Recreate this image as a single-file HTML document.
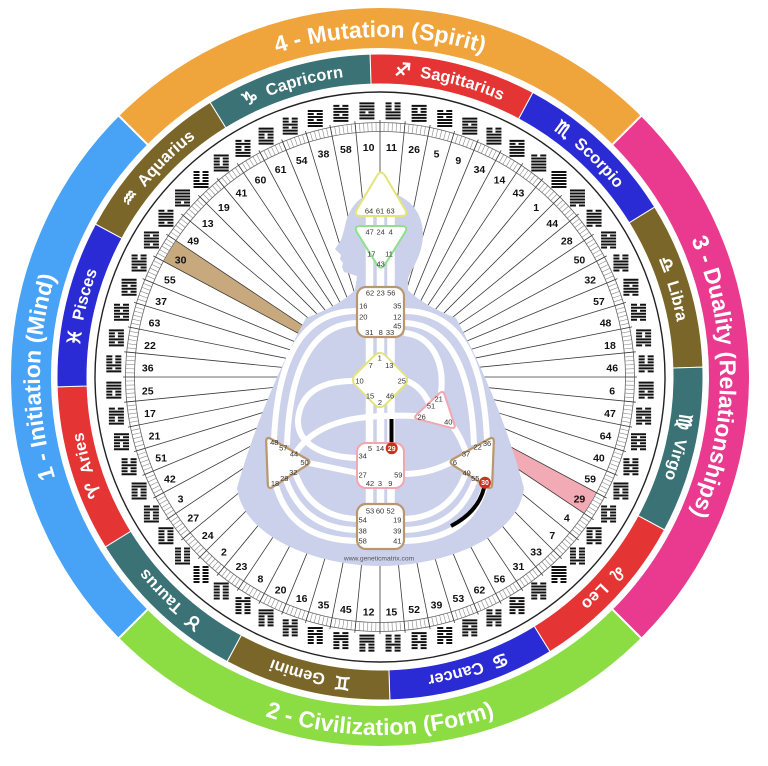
<!DOCTYPE html>
<html><head><meta charset="utf-8"><style>html,body{margin:0;padding:0;background:#fff;}svg{display:block;}</style></head>
<body>
<svg width="768" height="766" viewBox="0 0 768 766" xmlns="http://www.w3.org/2000/svg" xmlns:xlink="http://www.w3.org/1999/xlink" font-family="'Liberation Sans','DejaVu Sans',sans-serif">
<defs>
<g id="hx"><line x1="0" y1="-8.5" x2="0" y2="8.5" stroke="#111" stroke-width="15" stroke-dasharray="2 1"/></g>
<path id="pTop" d="M139.58,136.58 A340 340 0 0 1 620.42,136.58"/>
<path id="pRight" d="M620.42,136.58 A340 340 0 0 1 620.42,617.42"/>
<path id="pLeft" d="M139.58,617.42 A340 340 0 0 1 139.58,136.58"/>
<path id="pBot" d="M126.86,630.14 A358 358 0 0 0 633.14,630.14"/>
<path id="pZ" d="M380,75 A302 302 0 0 1 380,679 A302 302 0 0 1 380,75"/>
</defs>
<rect width="768" height="766" fill="#fff"/>

<!-- quarters -->
<g stroke="#fff" stroke-width="2">
<path fill="#f0a43c" d="M118.37,115.37 A370 370 0 0 1 641.63,115.37 L611.93,145.07 A328 328 0 0 0 148.07,145.07 Z"/>
<path fill="#e93a8f" d="M641.63,115.37 A370 370 0 0 1 641.63,638.63 L611.93,608.93 A328 328 0 0 0 611.93,145.07 Z"/>
<path fill="#8cdc44" d="M641.63,638.63 A370 370 0 0 1 118.37,638.63 L148.07,608.93 A328 328 0 0 0 611.93,608.93 Z"/>
<path fill="#48a2f6" d="M118.37,638.63 A370 370 0 0 1 118.37,115.37 L148.07,145.07 A328 328 0 0 0 148.07,608.93 Z"/>
</g>
<g font-weight="bold" font-size="23" fill="#fff">
<text><textPath href="#pTop" xlink:href="#pTop" startOffset="50%" text-anchor="middle">4 - Mutation (Spirit)</textPath></text>
<text><textPath href="#pRight" xlink:href="#pRight" startOffset="50%" text-anchor="middle">3 - Duality (Relationships)</textPath></text>
<text><textPath href="#pLeft" xlink:href="#pLeft" startOffset="50%" text-anchor="middle">1 - Initiation (Mind)</textPath></text>
<text><textPath href="#pBot" xlink:href="#pBot" startOffset="50%" text-anchor="middle">2 - Civilization (Form)</textPath></text>
</g>

<!-- zodiac -->
<g stroke="#fff" stroke-width="1">
<path fill="#3b7275" d="M210.03,102.34 A323 323 0 0 1 370.14,54.15 L371.05,84.14 A293 293 0 0 0 225.82,127.85 Z"/>
<path fill="#e53434" d="M370.14,54.15 A323 323 0 0 1 532.88,92.47 L518.68,118.90 A293 293 0 0 0 371.05,84.14 Z"/>
<path fill="#2b2bd6" d="M532.88,92.47 A323 323 0 0 1 654.66,207.03 L629.15,222.82 A293 293 0 0 0 518.68,118.90 Z"/>
<path fill="#7b6629" d="M654.66,207.03 A323 323 0 0 1 702.85,367.14 L672.86,368.05 A293 293 0 0 0 629.15,222.82 Z"/>
<path fill="#3b7275" d="M702.85,367.14 A323 323 0 0 1 664.53,529.88 L638.10,515.68 A293 293 0 0 0 672.86,368.05 Z"/>
<path fill="#e53434" d="M664.53,529.88 A323 323 0 0 1 549.97,651.66 L534.18,626.15 A293 293 0 0 0 638.10,515.68 Z"/>
<path fill="#2b2bd6" d="M549.97,651.66 A323 323 0 0 1 389.86,699.85 L388.95,669.86 A293 293 0 0 0 534.18,626.15 Z"/>
<path fill="#7b6629" d="M389.86,699.85 A323 323 0 0 1 227.12,661.53 L241.32,635.10 A293 293 0 0 0 388.95,669.86 Z"/>
<path fill="#3b7275" d="M227.12,661.53 A323 323 0 0 1 105.34,546.97 L130.85,531.18 A293 293 0 0 0 241.32,635.10 Z"/>
<path fill="#e53434" d="M105.34,546.97 A323 323 0 0 1 57.15,386.86 L87.14,385.95 A293 293 0 0 0 130.85,531.18 Z"/>
<path fill="#2b2bd6" d="M57.15,386.86 A323 323 0 0 1 95.47,224.12 L121.90,238.32 A293 293 0 0 0 87.14,385.95 Z"/>
<path fill="#7b6629" d="M95.47,224.12 A323 323 0 0 1 210.03,102.34 L225.82,127.85 A293 293 0 0 0 121.90,238.32 Z"/>
</g>
<g font-weight="bold" font-size="16.5" fill="#fff">
<text><textPath href="#pZ" xlink:href="#pZ" startOffset="70.347%" text-anchor="middle"><tspan font-size="18" stroke="#fff" stroke-width="0.9">♈&#xFE0E;</tspan>&#160; Aries</textPath></text>
<text><textPath href="#pZ" xlink:href="#pZ" startOffset="62.014%" text-anchor="middle"><tspan font-size="18" stroke="#fff" stroke-width="0.9">♉&#xFE0E;</tspan>&#160; Taurus</textPath></text>
<text><textPath href="#pZ" xlink:href="#pZ" startOffset="53.681%" text-anchor="middle"><tspan font-size="18" stroke="#fff" stroke-width="0.9">♊&#xFE0E;</tspan>&#160; Gemini</textPath></text>
<text><textPath href="#pZ" xlink:href="#pZ" startOffset="45.347%" text-anchor="middle"><tspan font-size="18" stroke="#fff" stroke-width="0.9">♋&#xFE0E;</tspan>&#160; Cancer</textPath></text>
<text><textPath href="#pZ" xlink:href="#pZ" startOffset="37.014%" text-anchor="middle"><tspan font-size="18" stroke="#fff" stroke-width="0.9">♌&#xFE0E;</tspan>&#160; Leo</textPath></text>
<text><textPath href="#pZ" xlink:href="#pZ" startOffset="28.681%" text-anchor="middle"><tspan font-size="18" stroke="#fff" stroke-width="0.9">♍&#xFE0E;</tspan>&#160; Virgo</textPath></text>
<text><textPath href="#pZ" xlink:href="#pZ" startOffset="20.347%" text-anchor="middle"><tspan font-size="18" stroke="#fff" stroke-width="0.9">♎&#xFE0E;</tspan>&#160; Libra</textPath></text>
<text><textPath href="#pZ" xlink:href="#pZ" startOffset="12.014%" text-anchor="middle"><tspan font-size="18" stroke="#fff" stroke-width="0.9">♏&#xFE0E;</tspan>&#160; Scorpio</textPath></text>
<text><textPath href="#pZ" xlink:href="#pZ" startOffset="3.681%" text-anchor="middle"><tspan font-size="18" stroke="#fff" stroke-width="0.9">♐&#xFE0E;</tspan>&#160; Sagittarius</textPath></text>
<text><textPath href="#pZ" xlink:href="#pZ" startOffset="95.347%" text-anchor="middle"><tspan font-size="18" stroke="#fff" stroke-width="0.9">♑&#xFE0E;</tspan>&#160; Capricorn</textPath></text>
<text><textPath href="#pZ" xlink:href="#pZ" startOffset="87.014%" text-anchor="middle"><tspan font-size="18" stroke="#fff" stroke-width="0.9">♒&#xFE0E;</tspan>&#160; Aquarius</textPath></text>
<text><textPath href="#pZ" xlink:href="#pZ" startOffset="78.681%" text-anchor="middle"><tspan font-size="18" stroke="#fff" stroke-width="0.9">♓&#xFE0E;</tspan>&#160; Pisces</textPath></text>
</g>

<circle cx="380" cy="377" r="285" fill="none" stroke="#222" stroke-width="1.4"/>

<!-- highlighted gate wedges -->
<path fill="#c8a97e" d="M380,377 L163.93,261.51 A245 245 0 0 1 176.29,240.89 Z"/>
<path fill="#f2aab4" d="M380,377 L596.07,492.49 A245 245 0 0 1 583.71,513.11 Z"/>

<!-- tick ring -->
<circle cx="380" cy="377" r="250" fill="none" stroke="#8a8a8a" stroke-width="9" stroke-dasharray="0.6 3.4906" stroke-dashoffset="0.3" transform="rotate(-90 380 377)"/>
<circle cx="380" cy="377" r="245.5" fill="none" stroke="#666" stroke-width="0.8"/>
<circle cx="380" cy="377" r="254.5" fill="none" stroke="#666" stroke-width="0.8"/>

<!-- radial lines -->
<g stroke="#3a3a3a" stroke-width="0.8">
<line x1="380" y1="120" x2="380" y2="634"/>
<line x1="380" y1="120" x2="380" y2="634" transform="rotate(5.625 380 377)"/>
<line x1="380" y1="120" x2="380" y2="634" transform="rotate(11.25 380 377)"/>
<line x1="380" y1="120" x2="380" y2="634" transform="rotate(16.875 380 377)"/>
<line x1="380" y1="120" x2="380" y2="634" transform="rotate(22.5 380 377)"/>
<line x1="380" y1="120" x2="380" y2="634" transform="rotate(28.125 380 377)"/>
<line x1="380" y1="120" x2="380" y2="634" transform="rotate(33.75 380 377)"/>
<line x1="380" y1="120" x2="380" y2="634" transform="rotate(39.375 380 377)"/>
<line x1="380" y1="120" x2="380" y2="634" transform="rotate(45 380 377)"/>
<line x1="380" y1="120" x2="380" y2="634" transform="rotate(50.625 380 377)"/>
<line x1="380" y1="120" x2="380" y2="634" transform="rotate(56.25 380 377)"/>
<line x1="380" y1="120" x2="380" y2="634" transform="rotate(61.875 380 377)"/>
<line x1="380" y1="120" x2="380" y2="634" transform="rotate(67.5 380 377)"/>
<line x1="380" y1="120" x2="380" y2="634" transform="rotate(73.125 380 377)"/>
<line x1="380" y1="120" x2="380" y2="634" transform="rotate(78.75 380 377)"/>
<line x1="380" y1="120" x2="380" y2="634" transform="rotate(84.375 380 377)"/>
<line x1="380" y1="120" x2="380" y2="634" transform="rotate(90 380 377)"/>
<line x1="380" y1="120" x2="380" y2="634" transform="rotate(95.625 380 377)"/>
<line x1="380" y1="120" x2="380" y2="634" transform="rotate(101.25 380 377)"/>
<line x1="380" y1="120" x2="380" y2="634" transform="rotate(106.875 380 377)"/>
<line x1="380" y1="120" x2="380" y2="634" transform="rotate(112.5 380 377)"/>
<line x1="380" y1="120" x2="380" y2="634" transform="rotate(118.125 380 377)"/>
<line x1="380" y1="120" x2="380" y2="634" transform="rotate(123.75 380 377)"/>
<line x1="380" y1="120" x2="380" y2="634" transform="rotate(129.375 380 377)"/>
<line x1="380" y1="120" x2="380" y2="634" transform="rotate(135 380 377)"/>
<line x1="380" y1="120" x2="380" y2="634" transform="rotate(140.625 380 377)"/>
<line x1="380" y1="120" x2="380" y2="634" transform="rotate(146.25 380 377)"/>
<line x1="380" y1="120" x2="380" y2="634" transform="rotate(151.875 380 377)"/>
<line x1="380" y1="120" x2="380" y2="634" transform="rotate(157.5 380 377)"/>
<line x1="380" y1="120" x2="380" y2="634" transform="rotate(163.125 380 377)"/>
<line x1="380" y1="120" x2="380" y2="634" transform="rotate(168.75 380 377)"/>
<line x1="380" y1="120" x2="380" y2="634" transform="rotate(174.375 380 377)"/>
</g>

<!-- hexagrams + gate numbers -->
<g font-weight="bold" font-size="10.5" fill="#111" text-anchor="middle">
<g transform="rotate(2.8125 380 377)"><use href="#hx" xlink:href="#hx" transform="translate(380 110.5) rotate(-2.8125)"/><text transform="translate(380 144.5) rotate(-2.8125)" y="6.1">11</text></g>
<g transform="rotate(8.4375 380 377)"><use href="#hx" xlink:href="#hx" transform="translate(380 110.5) rotate(-8.4375)"/><text transform="translate(380 144.5) rotate(-8.4375)" y="6.1">26</text></g>
<g transform="rotate(14.0625 380 377)"><use href="#hx" xlink:href="#hx" transform="translate(380 110.5) rotate(-14.0625)"/><text transform="translate(380 144.5) rotate(-14.0625)" y="6.1">5</text></g>
<g transform="rotate(19.6875 380 377)"><use href="#hx" xlink:href="#hx" transform="translate(380 110.5) rotate(-19.6875)"/><text transform="translate(380 144.5) rotate(-19.6875)" y="6.1">9</text></g>
<g transform="rotate(25.3125 380 377)"><use href="#hx" xlink:href="#hx" transform="translate(380 110.5) rotate(-25.3125)"/><text transform="translate(380 144.5) rotate(-25.3125)" y="6.1">34</text></g>
<g transform="rotate(30.9375 380 377)"><use href="#hx" xlink:href="#hx" transform="translate(380 110.5) rotate(-30.9375)"/><text transform="translate(380 144.5) rotate(-30.9375)" y="6.1">14</text></g>
<g transform="rotate(36.5625 380 377)"><use href="#hx" xlink:href="#hx" transform="translate(380 110.5) rotate(-36.5625)"/><text transform="translate(380 144.5) rotate(-36.5625)" y="6.1">43</text></g>
<g transform="rotate(42.1875 380 377)"><use href="#hx" xlink:href="#hx" transform="translate(380 110.5) rotate(-42.1875)"/><text transform="translate(380 144.5) rotate(-42.1875)" y="6.1">1</text></g>
<g transform="rotate(47.8125 380 377)"><use href="#hx" xlink:href="#hx" transform="translate(380 110.5) rotate(-47.8125)"/><text transform="translate(380 144.5) rotate(-47.8125)" y="6.1">44</text></g>
<g transform="rotate(53.4375 380 377)"><use href="#hx" xlink:href="#hx" transform="translate(380 110.5) rotate(-53.4375)"/><text transform="translate(380 144.5) rotate(-53.4375)" y="6.1">28</text></g>
<g transform="rotate(59.0625 380 377)"><use href="#hx" xlink:href="#hx" transform="translate(380 110.5) rotate(-59.0625)"/><text transform="translate(380 144.5) rotate(-59.0625)" y="6.1">50</text></g>
<g transform="rotate(64.6875 380 377)"><use href="#hx" xlink:href="#hx" transform="translate(380 110.5) rotate(-64.6875)"/><text transform="translate(380 144.5) rotate(-64.6875)" y="6.1">32</text></g>
<g transform="rotate(70.3125 380 377)"><use href="#hx" xlink:href="#hx" transform="translate(380 110.5) rotate(-70.3125)"/><text transform="translate(380 144.5) rotate(-70.3125)" y="6.1">57</text></g>
<g transform="rotate(75.9375 380 377)"><use href="#hx" xlink:href="#hx" transform="translate(380 110.5) rotate(-75.9375)"/><text transform="translate(380 144.5) rotate(-75.9375)" y="6.1">48</text></g>
<g transform="rotate(81.5625 380 377)"><use href="#hx" xlink:href="#hx" transform="translate(380 110.5) rotate(-81.5625)"/><text transform="translate(380 144.5) rotate(-81.5625)" y="6.1">18</text></g>
<g transform="rotate(87.1875 380 377)"><use href="#hx" xlink:href="#hx" transform="translate(380 110.5) rotate(-87.1875)"/><text transform="translate(380 144.5) rotate(-87.1875)" y="6.1">46</text></g>
<g transform="rotate(92.8125 380 377)"><use href="#hx" xlink:href="#hx" transform="translate(380 110.5) rotate(-92.8125)"/><text transform="translate(380 144.5) rotate(-92.8125)" y="6.1">6</text></g>
<g transform="rotate(98.4375 380 377)"><use href="#hx" xlink:href="#hx" transform="translate(380 110.5) rotate(-98.4375)"/><text transform="translate(380 144.5) rotate(-98.4375)" y="6.1">47</text></g>
<g transform="rotate(104.0625 380 377)"><use href="#hx" xlink:href="#hx" transform="translate(380 110.5) rotate(-104.0625)"/><text transform="translate(380 144.5) rotate(-104.0625)" y="6.1">64</text></g>
<g transform="rotate(109.6875 380 377)"><use href="#hx" xlink:href="#hx" transform="translate(380 110.5) rotate(-109.6875)"/><text transform="translate(380 144.5) rotate(-109.6875)" y="6.1">40</text></g>
<g transform="rotate(115.3125 380 377)"><use href="#hx" xlink:href="#hx" transform="translate(380 110.5) rotate(-115.3125)"/><text transform="translate(380 144.5) rotate(-115.3125)" y="6.1">59</text></g>
<g transform="rotate(120.9375 380 377)"><use href="#hx" xlink:href="#hx" transform="translate(380 110.5) rotate(-120.9375)"/><text transform="translate(380 144.5) rotate(-120.9375)" y="6.1">29</text></g>
<g transform="rotate(126.5625 380 377)"><use href="#hx" xlink:href="#hx" transform="translate(380 110.5) rotate(-126.5625)"/><text transform="translate(380 144.5) rotate(-126.5625)" y="6.1">4</text></g>
<g transform="rotate(132.1875 380 377)"><use href="#hx" xlink:href="#hx" transform="translate(380 110.5) rotate(-132.1875)"/><text transform="translate(380 144.5) rotate(-132.1875)" y="6.1">7</text></g>
<g transform="rotate(137.8125 380 377)"><use href="#hx" xlink:href="#hx" transform="translate(380 110.5) rotate(-137.8125)"/><text transform="translate(380 144.5) rotate(-137.8125)" y="6.1">33</text></g>
<g transform="rotate(143.4375 380 377)"><use href="#hx" xlink:href="#hx" transform="translate(380 110.5) rotate(-143.4375)"/><text transform="translate(380 144.5) rotate(-143.4375)" y="6.1">31</text></g>
<g transform="rotate(149.0625 380 377)"><use href="#hx" xlink:href="#hx" transform="translate(380 110.5) rotate(-149.0625)"/><text transform="translate(380 144.5) rotate(-149.0625)" y="6.1">56</text></g>
<g transform="rotate(154.6875 380 377)"><use href="#hx" xlink:href="#hx" transform="translate(380 110.5) rotate(-154.6875)"/><text transform="translate(380 144.5) rotate(-154.6875)" y="6.1">62</text></g>
<g transform="rotate(160.3125 380 377)"><use href="#hx" xlink:href="#hx" transform="translate(380 110.5) rotate(-160.3125)"/><text transform="translate(380 144.5) rotate(-160.3125)" y="6.1">53</text></g>
<g transform="rotate(165.9375 380 377)"><use href="#hx" xlink:href="#hx" transform="translate(380 110.5) rotate(-165.9375)"/><text transform="translate(380 144.5) rotate(-165.9375)" y="6.1">39</text></g>
<g transform="rotate(171.5625 380 377)"><use href="#hx" xlink:href="#hx" transform="translate(380 110.5) rotate(-171.5625)"/><text transform="translate(380 144.5) rotate(-171.5625)" y="6.1">52</text></g>
<g transform="rotate(177.1875 380 377)"><use href="#hx" xlink:href="#hx" transform="translate(380 110.5) rotate(-177.1875)"/><text transform="translate(380 144.5) rotate(-177.1875)" y="6.1">15</text></g>
<g transform="rotate(182.8125 380 377)"><use href="#hx" xlink:href="#hx" transform="translate(380 110.5) rotate(-182.8125)"/><text transform="translate(380 144.5) rotate(-182.8125)" y="6.1">12</text></g>
<g transform="rotate(188.4375 380 377)"><use href="#hx" xlink:href="#hx" transform="translate(380 110.5) rotate(-188.4375)"/><text transform="translate(380 144.5) rotate(-188.4375)" y="6.1">45</text></g>
<g transform="rotate(194.0625 380 377)"><use href="#hx" xlink:href="#hx" transform="translate(380 110.5) rotate(-194.0625)"/><text transform="translate(380 144.5) rotate(-194.0625)" y="6.1">35</text></g>
<g transform="rotate(199.6875 380 377)"><use href="#hx" xlink:href="#hx" transform="translate(380 110.5) rotate(-199.6875)"/><text transform="translate(380 144.5) rotate(-199.6875)" y="6.1">16</text></g>
<g transform="rotate(205.3125 380 377)"><use href="#hx" xlink:href="#hx" transform="translate(380 110.5) rotate(-205.3125)"/><text transform="translate(380 144.5) rotate(-205.3125)" y="6.1">20</text></g>
<g transform="rotate(210.9375 380 377)"><use href="#hx" xlink:href="#hx" transform="translate(380 110.5) rotate(-210.9375)"/><text transform="translate(380 144.5) rotate(-210.9375)" y="6.1">8</text></g>
<g transform="rotate(216.5625 380 377)"><use href="#hx" xlink:href="#hx" transform="translate(380 110.5) rotate(-216.5625)"/><text transform="translate(380 144.5) rotate(-216.5625)" y="6.1">23</text></g>
<g transform="rotate(222.1875 380 377)"><use href="#hx" xlink:href="#hx" transform="translate(380 110.5) rotate(-222.1875)"/><text transform="translate(380 144.5) rotate(-222.1875)" y="6.1">2</text></g>
<g transform="rotate(227.8125 380 377)"><use href="#hx" xlink:href="#hx" transform="translate(380 110.5) rotate(-227.8125)"/><text transform="translate(380 144.5) rotate(-227.8125)" y="6.1">24</text></g>
<g transform="rotate(233.4375 380 377)"><use href="#hx" xlink:href="#hx" transform="translate(380 110.5) rotate(-233.4375)"/><text transform="translate(380 144.5) rotate(-233.4375)" y="6.1">27</text></g>
<g transform="rotate(239.0625 380 377)"><use href="#hx" xlink:href="#hx" transform="translate(380 110.5) rotate(-239.0625)"/><text transform="translate(380 144.5) rotate(-239.0625)" y="6.1">3</text></g>
<g transform="rotate(244.6875 380 377)"><use href="#hx" xlink:href="#hx" transform="translate(380 110.5) rotate(-244.6875)"/><text transform="translate(380 144.5) rotate(-244.6875)" y="6.1">42</text></g>
<g transform="rotate(250.3125 380 377)"><use href="#hx" xlink:href="#hx" transform="translate(380 110.5) rotate(-250.3125)"/><text transform="translate(380 144.5) rotate(-250.3125)" y="6.1">51</text></g>
<g transform="rotate(255.9375 380 377)"><use href="#hx" xlink:href="#hx" transform="translate(380 110.5) rotate(-255.9375)"/><text transform="translate(380 144.5) rotate(-255.9375)" y="6.1">21</text></g>
<g transform="rotate(261.5625 380 377)"><use href="#hx" xlink:href="#hx" transform="translate(380 110.5) rotate(-261.5625)"/><text transform="translate(380 144.5) rotate(-261.5625)" y="6.1">17</text></g>
<g transform="rotate(267.1875 380 377)"><use href="#hx" xlink:href="#hx" transform="translate(380 110.5) rotate(-267.1875)"/><text transform="translate(380 144.5) rotate(-267.1875)" y="6.1">25</text></g>
<g transform="rotate(272.8125 380 377)"><use href="#hx" xlink:href="#hx" transform="translate(380 110.5) rotate(-272.8125)"/><text transform="translate(380 144.5) rotate(-272.8125)" y="6.1">36</text></g>
<g transform="rotate(278.4375 380 377)"><use href="#hx" xlink:href="#hx" transform="translate(380 110.5) rotate(-278.4375)"/><text transform="translate(380 144.5) rotate(-278.4375)" y="6.1">22</text></g>
<g transform="rotate(284.0625 380 377)"><use href="#hx" xlink:href="#hx" transform="translate(380 110.5) rotate(-284.0625)"/><text transform="translate(380 144.5) rotate(-284.0625)" y="6.1">63</text></g>
<g transform="rotate(289.6875 380 377)"><use href="#hx" xlink:href="#hx" transform="translate(380 110.5) rotate(-289.6875)"/><text transform="translate(380 144.5) rotate(-289.6875)" y="6.1">37</text></g>
<g transform="rotate(295.3125 380 377)"><use href="#hx" xlink:href="#hx" transform="translate(380 110.5) rotate(-295.3125)"/><text transform="translate(380 144.5) rotate(-295.3125)" y="6.1">55</text></g>
<g transform="rotate(300.9375 380 377)"><use href="#hx" xlink:href="#hx" transform="translate(380 110.5) rotate(-300.9375)"/><text transform="translate(380 144.5) rotate(-300.9375)" y="6.1">30</text></g>
<g transform="rotate(306.5625 380 377)"><use href="#hx" xlink:href="#hx" transform="translate(380 110.5) rotate(-306.5625)"/><text transform="translate(380 144.5) rotate(-306.5625)" y="6.1">49</text></g>
<g transform="rotate(312.1875 380 377)"><use href="#hx" xlink:href="#hx" transform="translate(380 110.5) rotate(-312.1875)"/><text transform="translate(380 144.5) rotate(-312.1875)" y="6.1">13</text></g>
<g transform="rotate(317.8125 380 377)"><use href="#hx" xlink:href="#hx" transform="translate(380 110.5) rotate(-317.8125)"/><text transform="translate(380 144.5) rotate(-317.8125)" y="6.1">19</text></g>
<g transform="rotate(323.4375 380 377)"><use href="#hx" xlink:href="#hx" transform="translate(380 110.5) rotate(-323.4375)"/><text transform="translate(380 144.5) rotate(-323.4375)" y="6.1">41</text></g>
<g transform="rotate(329.0625 380 377)"><use href="#hx" xlink:href="#hx" transform="translate(380 110.5) rotate(-329.0625)"/><text transform="translate(380 144.5) rotate(-329.0625)" y="6.1">60</text></g>
<g transform="rotate(334.6875 380 377)"><use href="#hx" xlink:href="#hx" transform="translate(380 110.5) rotate(-334.6875)"/><text transform="translate(380 144.5) rotate(-334.6875)" y="6.1">61</text></g>
<g transform="rotate(340.3125 380 377)"><use href="#hx" xlink:href="#hx" transform="translate(380 110.5) rotate(-340.3125)"/><text transform="translate(380 144.5) rotate(-340.3125)" y="6.1">54</text></g>
<g transform="rotate(345.9375 380 377)"><use href="#hx" xlink:href="#hx" transform="translate(380 110.5) rotate(-345.9375)"/><text transform="translate(380 144.5) rotate(-345.9375)" y="6.1">38</text></g>
<g transform="rotate(351.5625 380 377)"><use href="#hx" xlink:href="#hx" transform="translate(380 110.5) rotate(-351.5625)"/><text transform="translate(380 144.5) rotate(-351.5625)" y="6.1">58</text></g>
<g transform="rotate(357.1875 380 377)"><use href="#hx" xlink:href="#hx" transform="translate(380 110.5) rotate(-357.1875)"/><text transform="translate(380 144.5) rotate(-357.1875)" y="6.1">10</text></g>
</g>
<g id="gaps"></g>

<!-- body silhouette -->
<path fill="#ccd1eb" d="M381,192 C405,192 423,210 423,234 C423,252 414,266 408,278 L408,290 C418,300 433,309 456,318 Q500,400 524,488 C518,540 440,566 381,566 C322,566 244,540 237,488 Q262,400 306,318 C330,309 345,300 355,290 L357,276 L344,272 L342,267 L343,263 L340,259 L341,255 L335,249 L341,240 C343,234 344,230 345,226 C349,206 362,192 381,192 Z"/>

<!-- channels -->
<g fill="none" stroke="#fff" stroke-width="6">
<path stroke-width="7.5" d="M369.5,214V292 M380.5,214V292 M391,214V292 M369.5,330V512 M380.5,330V512 M391,330V512"/>
<path d="M357,311 C310,311 278,345 274,440"/>
<path d="M357,323 C318,324 290,358 287,445"/>
<path d="M404,311 C451,311 483,345 487,440"/>
<path d="M404,323 C443,324 471,358 474,445"/>
<path d="M404,333 C430,335 445,360 441,393"/>
<path d="M405,380 C418,385 424,393 429,403"/>
<path d="M353,381 C318,381 300,395 298,420 C297,445 325,457 357,458"/>
<path d="M416,416 C360,414 318,420 296,452"/>
<path d="M309,463 L357,473"/>
<path d="M404,474 C425,474 440,468 452,462"/>
<path d="M450,423 C458,432 462,442 466,452"/>
<path d="M357,519 C325,518 305,500 296,475"/>
<path d="M357,530 C318,529 297,510 286,480"/>
<path d="M357,541 C310,540 286,520 276,486"/>
<path d="M404,519 C436,518 456,500 465,475"/>
<path d="M404,530 C443,529 464,510 475,480"/>
<path d="M404,541 C451,540 475,520 485,486"/>
</g>

<!-- activations -->
<path d="M391.5,419 V442" stroke="#000" stroke-width="4"/>
<path d="M484,488 Q478,512 451,526" fill="none" stroke="#000" stroke-width="4"/>

<!-- centers -->
<g fill="#fff" stroke-width="2">
<path stroke="#e4e47a" d="M376.9,175.9 Q381,169 385.1,175.9 L404.9,209.1 Q409,216 401,216 L361,216 Q353,216 357.1,209.1 Z"/>
<path stroke="#8fe08a" d="M361,226 L401,226 Q409,226 404.8,232.8 L385.2,264.2 Q381,271 376.8,264.2 L357.2,232.8 Q353,226 361,226 Z"/>
<rect x="357" y="287" width="47" height="50" rx="9" stroke="#b9976c" stroke-width="2.2"/>
<rect x="358.8" y="358.8" width="42.4" height="42.4" rx="7" stroke="#e2e37a" transform="rotate(45 380 380)"/>
<path stroke="#f2a7ae" d="M439.3,393.4 Q443,390 444.6,394.7 L454.4,424.3 Q456,429 451.2,427.8 L417.8,419.2 Q413,418 416.7,414.6 Z"/>
<rect x="357" y="443" width="47" height="45" rx="9" stroke="#f2a7ae"/>
<rect x="357" y="504" width="47" height="45" rx="9" stroke="#b9976c" stroke-width="2.2"/>
<path stroke="#b9976c" stroke-width="2.2" d="M271.2,439 L306.8,459 Q312,462 306.9,465.2 L273.1,486.8 Q268,490 267.8,484 L266.2,442 Q266,436 271.2,439 Z"/>
<path stroke="#b9976c" stroke-width="2.2" d="M488.8,439 L453.2,459 Q448,462 453.1,465.2 L486.9,486.8 Q492,490 492.2,484 L493.8,442 Q494,436 488.8,439 Z"/>
</g>

<!-- center labels -->
<g font-size="7.5" fill="#333" text-anchor="middle">
<text x="369" y="213.7">64</text><text x="380" y="213.7">61</text><text x="390.5" y="213.7">63</text>
<text x="369.7" y="234.4">47</text><text x="380.7" y="234.4">24</text><text x="390.7" y="234.4">4</text>
<text x="371.3" y="256.7">17</text><text x="389" y="256.7">11</text><text x="380.7" y="266.7">43</text>
<text x="370" y="295.7">62</text><text x="380.7" y="295.7">23</text><text x="391.3" y="295.7">56</text>
<text x="363.3" y="308.4">16</text><text x="397.3" y="308.4">35</text>
<text x="363.3" y="319.7">20</text><text x="397.3" y="319.7">12</text>
<text x="397.3" y="328.7">45</text>
<text x="369.3" y="335">31</text><text x="380.7" y="335">8</text><text x="390" y="335">33</text>
<text x="379.7" y="360.4">1</text><text x="370.7" y="368">7</text><text x="389.3" y="368">13</text>
<text x="359.5" y="383.4">10</text><text x="401.8" y="383.4">25</text>
<text x="370" y="398.7">15</text><text x="390" y="398.7">46</text><text x="380" y="405">2</text>
<text x="438.7" y="401.7">21</text><text x="431" y="408.7">51</text><text x="421.7" y="419.7">26</text><text x="448.3" y="424.4">40</text>
<text x="370" y="451">5</text><text x="380" y="451">14</text>
<text x="362.7" y="458.7">34</text><text x="362.7" y="477.7">27</text><text x="398.3" y="477.7">59</text>
<text x="370" y="486">42</text><text x="380" y="486">3</text><text x="390.3" y="486">9</text>
<text x="370" y="513.7">53</text><text x="380" y="513.7">60</text><text x="390.7" y="513.7">52</text>
<text x="362.7" y="522.7">54</text><text x="397.3" y="522.7">19</text>
<text x="362.7" y="533.4">38</text><text x="397.3" y="533.4">39</text>
<text x="362.7" y="543.7">58</text><text x="397.3" y="543.7">41</text>
<text x="274.3" y="445">48</text><text x="283.3" y="450.4">57</text><text x="294" y="456.7">44</text><text x="304.5" y="465">50</text>
<text x="293.3" y="475">32</text><text x="284.3" y="481">28</text><text x="275" y="486">18</text>
<text x="487" y="446">36</text><text x="477.7" y="449.4">22</text><text x="466" y="456.7">37</text><text x="455" y="465">6</text>
<text x="466.7" y="475.4">49</text><text x="475.3" y="481">55</text>
</g>
<circle cx="391.7" cy="448.3" r="6" fill="#c9341f"/>
<circle cx="485" cy="482.7" r="6" fill="#c9341f"/>
<g font-size="7" font-weight="bold" fill="#fff" text-anchor="middle">
<text x="391.7" y="450.8">29</text><text x="485" y="485.2">30</text>
</g>
<text x="379" y="560.3" font-size="6.7" fill="#555" text-anchor="middle">www.geneticmatrix.com</text>
</svg>
<script>
(function(){
var order=[11,26,5,9,34,14,43,1,44,28,50,32,57,48,18,46,6,47,64,40,59,29,4,7,33,31,56,62,53,39,52,15,12,45,35,16,20,8,23,2,24,27,3,42,51,21,17,25,36,22,63,37,55,30,49,13,19,41,60,61,54,38,58,10];
var H={1:'111111',2:'000000',3:'100010',4:'010001',5:'111010',6:'010111',7:'010000',8:'000010',9:'111011',10:'110111',11:'111000',12:'000111',13:'101111',14:'111101',15:'001000',16:'000100',17:'100110',18:'011001',19:'110000',20:'000011',21:'100101',22:'101001',23:'000001',24:'100000',25:'100111',26:'111001',27:'100001',28:'011110',29:'010010',30:'101101',31:'001110',32:'011100',33:'001111',34:'111100',35:'000101',36:'101000',37:'101011',38:'110101',39:'001010',40:'010100',41:'110001',42:'100011',43:'111110',44:'011111',45:'000110',46:'011000',47:'010110',48:'011010',49:'101110',50:'011101',51:'100100',52:'001001',53:'001011',54:'110100',55:'101100',56:'001101',57:'011011',58:'110110',59:'010011',60:'110010',61:'110011',62:'001100',63:'101010',64:'010101'};
var s='';
for(var i=0;i<order.length;i++){
  var a=(i+0.5)*5.625, b=H[order[i]], r='';
  for(var k=0;k<6;k++){ if(b.charAt(k)==='0'){ r+='<rect x="-1.5" y="'+(6.3-3*k).toFixed(1)+'" width="3" height="2.4" fill="#fff"/>'; } }
  if(r) s+='<g transform="rotate('+a+' 380 377) translate(380 110.5) rotate('+(-a)+')">'+r+'</g>';
}
var g=document.getElementById('gaps');
if(g) g.innerHTML=s;
})();
</script>
</body></html>
